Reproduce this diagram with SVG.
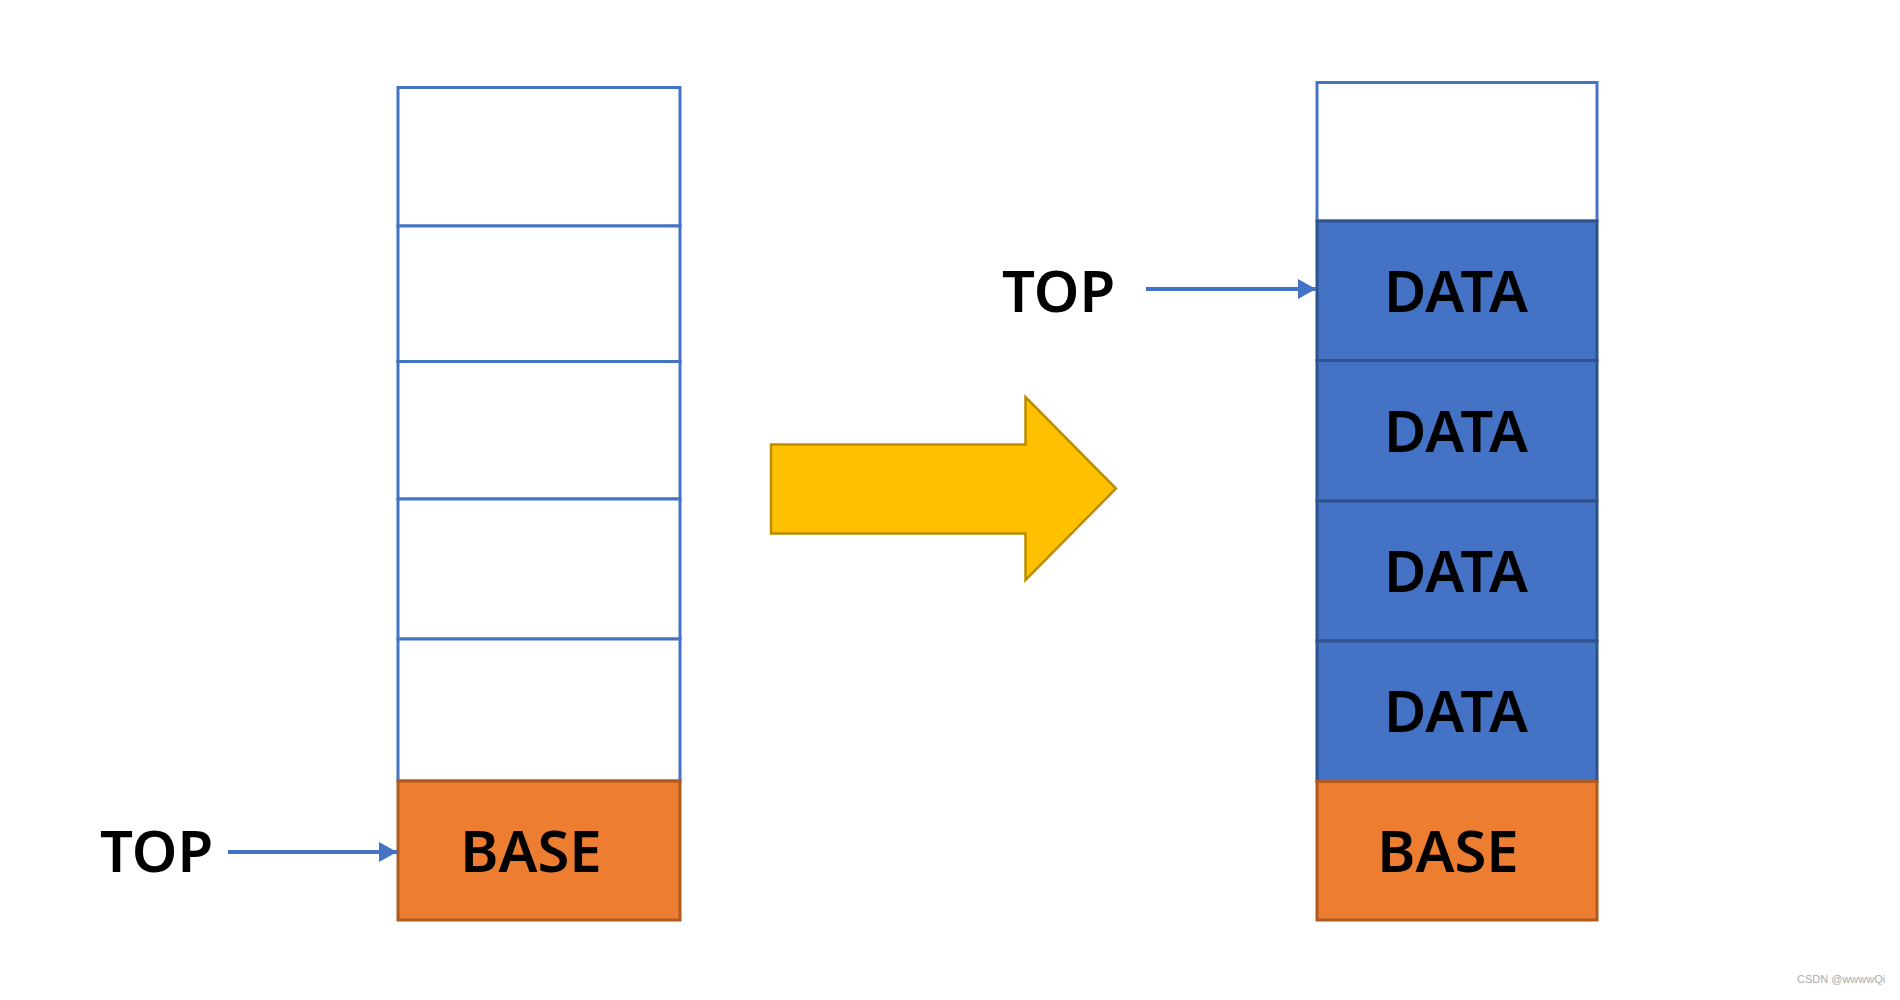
<svg xmlns="http://www.w3.org/2000/svg" width="1900" height="1000" viewBox="0 0 1900 1000">
<style>
.empty{fill:#ffffff;stroke:#4472C4;stroke-width:3}
.data{fill:#4472C4;stroke:#2F528F;stroke-width:3}
.base{fill:#ED7D31;stroke:#AE5A21;stroke-width:3}
.lbl{font-family:"Noto Sans","Open Sans","Liberation Sans",sans-serif;font-size:58px;font-weight:600;fill:#000000}
.mid{text-anchor:middle}
.conn{stroke:#4472C4;stroke-width:4;fill:none}
</style>
<defs>
<marker id="ah" markerUnits="userSpaceOnUse" markerWidth="20" markerHeight="22" refX="18" refY="10" orient="auto">
<path d="M0,0 L18,10 L0,20 Z" fill="#4472C4"/>
</marker>
</defs>
<rect width="1900" height="1000" fill="#ffffff"/>

<g id="left-stack">
<g id="l-cell1"><rect class="empty" x="398" y="87.5" width="282" height="138.5"/></g>
<g id="l-cell2"><rect class="empty" x="398" y="226" width="282" height="135.5"/></g>
<g id="l-cell3"><rect class="empty" x="398" y="361.5" width="282" height="137.5"/></g>
<g id="l-cell4"><rect class="empty" x="398" y="499" width="282" height="140"/></g>
<g id="l-cell5"><rect class="empty" x="398" y="639" width="282" height="142"/></g>
<g id="l-base"><rect class="base" x="398" y="781" width="282" height="139"/>
<text class="lbl mid" x="531" y="872">BASE</text></g>
</g>

<g id="left-top"><text class="lbl" x="100" y="872">TOP</text></g>

<g id="big-arrow"><path d="M771,444.5 L1025.5,444.5 L1025.5,397 L1116,488.5 L1025.5,580 L1025.5,533.5 L771,533.5 Z" fill="#FFC000" stroke="#BC8C00" stroke-width="2.5"/></g>

<g id="right-stack">
<g id="r-cell1"><rect class="empty" x="1317" y="82.5" width="280" height="138.5" stroke-width="2.5"/></g>
<g id="r-data1"><rect class="data" x="1317" y="221" width="280" height="139.5"/>
<text class="lbl mid" x="1456" y="312">DATA</text></g>
<g id="r-data2"><rect class="data" x="1317" y="360.5" width="280" height="140.5"/>
<text class="lbl mid" x="1456" y="452">DATA</text></g>
<g id="r-data3"><rect class="data" x="1317" y="501" width="280" height="140"/>
<text class="lbl mid" x="1456" y="592">DATA</text></g>
<g id="r-data4"><rect class="data" x="1317" y="641" width="280" height="140.5"/>
<text class="lbl mid" x="1456" y="732">DATA</text></g>
<g id="r-base"><rect class="base" x="1317" y="781.5" width="280" height="138.5"/>
<text class="lbl mid" x="1448" y="872">BASE</text></g>
</g>

<g id="right-top"><text class="lbl" x="1002" y="312">TOP</text></g>

<g id="connectors">
<line class="conn" x1="228" y1="852" x2="397" y2="852" marker-end="url(#ah)"/>
<line class="conn" x1="1146" y1="289" x2="1316" y2="289" marker-end="url(#ah)"/>
</g>

<text x="1797" y="983" font-family="Liberation Sans, Arial, sans-serif" font-size="11" fill="#aaaaaa">CSDN @wwwwQi</text>
</svg>
